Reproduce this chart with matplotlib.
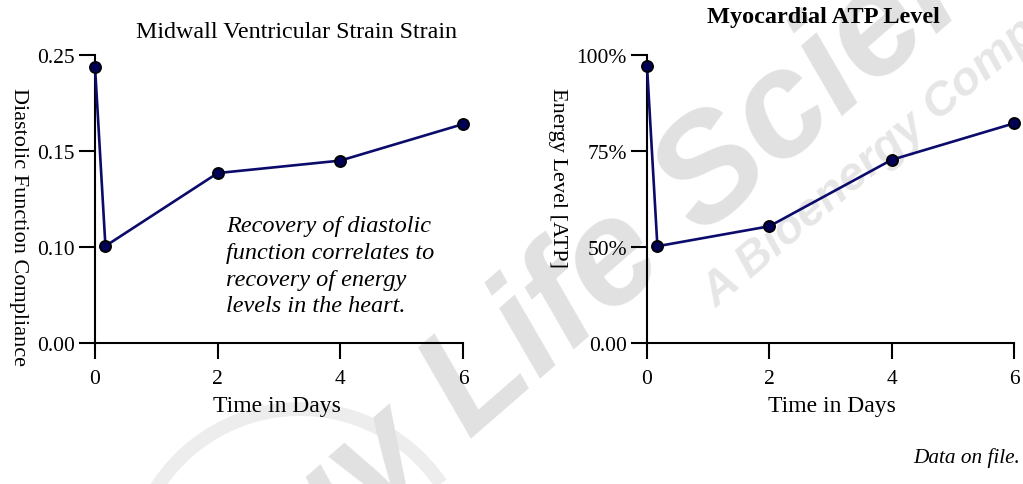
import numpy as np
import matplotlib
matplotlib.use("Agg")
import matplotlib.pyplot as plt
from matplotlib.patches import Arc

# ---------------- data ----------------
days = [0, 0.17, 2, 4, 6]
strain = [0.238, 0.1005, 0.1385, 0.145, 0.178]
atp = [97.2, 50.2, 55.4, 72.7, 82.2]

strain_ticks = [0.00, 0.10, 0.15, 0.25]
strain_ticklabels = ["0.00", "0.10", "0.15", "0.25"]
atp_ticks = [0, 50, 75, 100]
atp_ticklabels = ["0.00", "50%", "75%", "100%"]
x_ticks = [0, 2, 4, 6]

plt.rcParams['font.family'] = ['Liberation Serif', 'DejaVu Serif']

W, H = 1023, 485
fig = plt.figure(figsize=(W / 100, H / 100), dpi=100)

# ---------------- watermark (behind everything) ----------------
fig.text(482 / W, 1 - 378 / H, "Bioenergy Life Science", family="Liberation Sans",
         fontsize=108, fontweight="bold", style="italic", color="#e1e1e1",
         rotation=41, ha="center", va="center", zorder=-5)
fig.text(902 / W, 1 - 137 / H, "A Bioenergy Company", family="Liberation Sans",
         fontsize=34, fontweight="bold", style="italic", color="#e6e6e6",
         rotation=40, ha="center", va="center", zorder=-5)
arc = Arc((300 / W, 1 - 580 / H), 340 / W, 340 / H, theta1=55, theta2=150,
          transform=fig.transFigure, color="#ededed", lw=10, zorder=-5)
fig.patches.append(arc)

line_col = "#0b0b6b"
face_col = "#000055"


def make_axes(rect, values, ticks, ticklabels):
    ax = fig.add_axes(rect)
    ax.set_zorder(2)
    ax.patch.set_alpha(0)
    fwd = lambda v: np.interp(v, ticks, np.arange(len(ticks)))
    inv = lambda p: np.interp(p, np.arange(len(ticks)), ticks)
    ax.set_yscale("function", functions=(fwd, inv))
    ax.plot(days, values, color=line_col, lw=1.9, marker="o", ms=8,
            mfc=face_col, mec="black", mew=1.3, clip_on=False, zorder=3)
    ax.set_xlim(0, 6)
    ax.set_ylim(ticks[0], ticks[-1])
    ax.set_xticks(x_ticks)
    ax.set_xticklabels([str(t) for t in x_ticks])
    ax.set_yticks(ticks)
    ax.set_yticklabels(ticklabels)
    ax.minorticks_off()
    for s in ["top", "right"]:
        ax.spines[s].set_visible(False)
    for s in ["left", "bottom"]:
        ax.spines[s].set_linewidth(1.5)
    ax.tick_params(axis="both", length=11.5, width=1.5, labelsize=15.5, colors="black")
    ax.tick_params(axis="x", pad=7)
    ax.tick_params(axis="y", pad=3)
    return ax


axl = make_axes([95 / W, 1 - 344 / H, 368 / W, 288 / H], strain, strain_ticks, strain_ticklabels)
axr = make_axes([647 / W, 1 - 344 / H, 367 / W, 288 / H], atp, atp_ticks, atp_ticklabels)

# titles
fig.text(297 / W, 1 - 33 / H, "Midwall Ventricular Strain Strain", fontsize=17.3,
         ha="center", va="center", zorder=3)
fig.text(823 / W, 1 - 18 / H, "Myocardial ATP Level", fontsize=17.5, fontweight="bold",
         ha="center", va="center", zorder=3)

# y labels (reading top to bottom)
fig.text(18 / W, 1 - 88 / H, "Diastolic Function Compliance", fontsize=16,
         rotation=-90, ha="center", va="top", zorder=3)
fig.text(557 / W, 1 - 88 / H, "Energy Level [ATP]", fontsize=16,
         rotation=-90, ha="center", va="top", zorder=3)

# x labels
fig.text(277 / W, 1 - 407 / H, "Time in Days", fontsize=17, ha="center", va="center", zorder=3)
fig.text(832 / W, 1 - 407 / H, "Time in Days", fontsize=17, ha="center", va="center", zorder=3)

# annotation
fig.text(226 / W, 1 - 216 / H,
         "Recovery of diastolic\nfunction correlates to\nrecovery of energy\nlevels in the heart.",
         fontsize=17.5, style="italic", ha="left", va="top", linespacing=1.36, zorder=3)

fig.text(1020 / W, 1 - 458 / H, "Data on file.", fontsize=15.3, style="italic",
         ha="right", va="center", zorder=3)

fig.savefig("out.png", dpi=100)
